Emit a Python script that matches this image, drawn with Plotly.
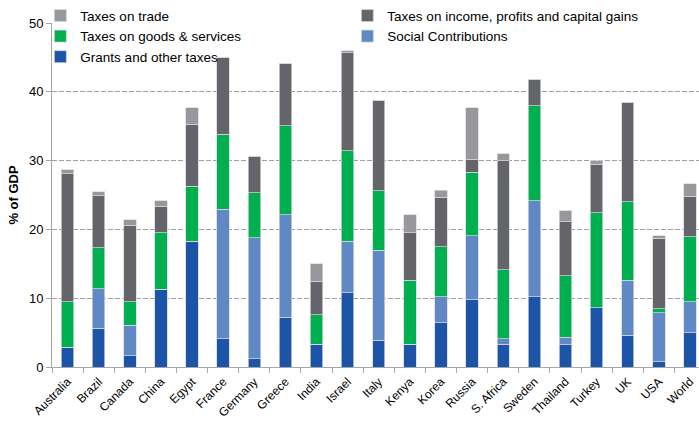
import plotly.graph_objects as go

countries = ["Australia", "Brazil", "Canada", "China", "Egypt", "France", "Germany",
             "Greece", "India", "Israel", "Italy", "Kenya", "Korea", "Russia",
             "S. Africa", "Sweden", "Thailand", "Turkey", "UK", "USA", "World"]

# Revenue components, % of GDP (stacked bottom to top)
grants_other = [2.9, 5.6, 1.6, 11.3, 18.3, 4.1, 1.2, 7.2, 3.3, 10.8, 3.9, 3.3, 6.4, 9.8,
                3.3, 10.2, 3.2, 8.6, 4.6, 0.8, 5.0]
social_contrib = [0.0, 5.8, 4.5, 0.0, 0.0, 18.8, 17.6, 14.9, 0.0, 7.5, 13.1, 0.0, 3.8, 9.3,
                  0.8, 14.0, 1.1, 0.0, 8.0, 7.1, 4.5]
goods_services = [6.6, 5.9, 3.4, 8.2, 8.0, 10.9, 6.5, 13.0, 4.3, 13.1, 8.6, 9.3, 7.3, 9.2,
                  10.0, 13.8, 9.0, 13.8, 11.4, 0.6, 9.4]
income_profits = [18.6, 7.6, 11.1, 3.9, 9.0, 11.2, 5.3, 9.0, 4.9, 14.3, 13.2, 6.9, 7.2, 1.9,
                  15.9, 3.8, 7.8, 7.1, 14.5, 10.25, 5.9]
trade = [0.6, 0.6, 0.8, 0.8, 2.4, 0.0, 0.0, 0.0, 2.5, 0.3, 0.0, 2.6, 1.0, 7.5,
         1.0, 0.0, 1.6, 0.5, 0.0, 0.35, 1.8]

series = [
    ("Grants and other taxes", grants_other, "#1c55a8"),
    ("Social Contributions", social_contrib, "#5f88c4"),
    ("Taxes on goods & services", goods_services, "#00b050"),
    ("Taxes on income, profits and capital gains", income_profits, "#636569"),
    ("Taxes on trade", trade, "#98989c"),
]

FONT = "Liberation Sans, Arial, sans-serif"

fig = go.Figure()
for name, vals, color in series:
    fig.add_trace(go.Bar(
        x=countries, y=vals, name=name,
        marker=dict(color=color, line=dict(color="rgba(215,215,220,0.9)", width=0.8)),
    ))

fig.update_layout(
    width=699, height=421,
    barmode="stack", bargap=0.6,
    plot_bgcolor="white", paper_bgcolor="white",
    margin=dict(l=52, r=0, t=23, b=54),
    font=dict(family=FONT, size=13, color="#000000"),
    showlegend=True,
    legend=dict(
        orientation="h", traceorder="reversed",
        x=-0.018, xanchor="left", y=1.066, yanchor="top",
        entrywidth=262, entrywidthmode="pixels",
        font=dict(family=FONT, size=13.5, color="#000000"),
        bgcolor="rgba(0,0,0,0)", tracegroupgap=0, itemwidth=30,
    ),
    xaxis=dict(
        type="category", range=[-0.5, 20.29],
        showline=True, linecolor="#a6a6a6", linewidth=1,
        ticks="outside", tickson="boundaries", ticklen=5, tickcolor="#a6a6a6",
        tickangle=-45, tickfont=dict(family=FONT, size=12, color="#000000"),
        ticklabelstandoff=2,
        showgrid=False, fixedrange=True, automargin=False,
    ),
    yaxis=dict(
        range=[0, 50], dtick=10,
        showline=True, linecolor="#a6a6a6", linewidth=1,
        ticks="outside", ticklen=5, tickcolor="#a6a6a6",
        tickfont=dict(family=FONT, size=13, color="#000000"),
        showgrid=True, gridcolor="#a0a0a0", gridwidth=1, griddash="5px,2px",
        zeroline=False,
        title=dict(text="<b>% of GDP</b>", font=dict(family=FONT, size=13, color="#000000"),
                   standoff=7),
        automargin=False,
    ),
)

fig.write_html("out.html")
